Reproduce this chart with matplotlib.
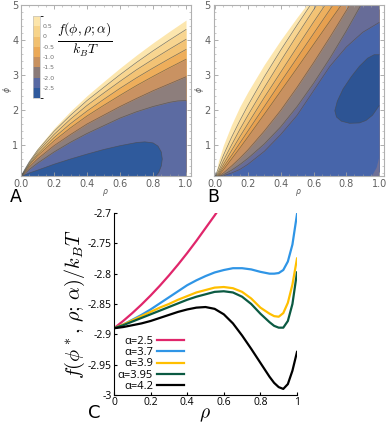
import matplotlib.pyplot as plt
from matplotlib.colors import ListedColormap, BoundaryNorm
from matplotlib.cm import ScalarMappable
from matplotlib.ticker import MultipleLocator

# ---- panel A: contour boundaries phi(rho) ----
rho_a = [0, 0.02, 0.05, 0.1, 0.2, 0.3, 0.4, 0.5, 0.6, 0.7, 0.8, 0.9, 0.95, 1.0]
a_bounds = [
    [0.1, 0.30, 0.56, 0.91, 1.48, 1.97, 2.41, 2.81, 3.20, 3.57, 3.92, 4.25, 4.41, 4.57],
    [0.1, 0.28, 0.52, 0.85, 1.39, 1.85, 2.27, 2.64, 3.01, 3.36, 3.69, 4.00, 4.15, 4.30],
    [0.1, 0.26, 0.49, 0.80, 1.30, 1.74, 2.13, 2.48, 2.82, 3.15, 3.45, 3.74, 3.88, 4.02],
    [0.1, 0.24, 0.45, 0.74, 1.21, 1.61, 1.97, 2.30, 2.62, 2.92, 3.20, 3.47, 3.60, 3.73],
    [0.1, 0.22, 0.42, 0.69, 1.12, 1.49, 1.83, 2.13, 2.42, 2.70, 2.96, 3.21, 3.33, 3.45],
    [0.1, 0.20, 0.37, 0.60, 0.98, 1.30, 1.60, 1.85, 2.10, 2.33, 2.55, 2.75, 2.85, 2.95],
    [0.1, 0.17, 0.30, 0.48, 0.80, 1.08, 1.33, 1.55, 1.77, 1.95, 2.10, 2.22, 2.26, 2.27],
]
a_colors = ['#fce6ae', '#f8d590', '#f3c375', '#eeae5b', '#c99262', '#8d7e7c', '#5c6ba2']
# closed low-energy pocket in A
a_pocket_rho = [0, 0.05, 0.1, 0.2, 0.3, 0.4, 0.5, 0.6, 0.7, 0.75, 0.8, 0.83, 0.85, 0.856, 0.85, 0.835, 0.815]
a_pocket_phi = [0.1, 0.2, 0.28, 0.45, 0.6, 0.74, 0.87, 0.98, 1.07, 1.09, 1.06, 0.97, 0.8, 0.6, 0.4, 0.22, 0.1]

# ---- panel B ----
rho_b = [0, 0.02, 0.05, 0.1, 0.15, 0.2, 0.3, 0.4, 0.5, 0.6, 0.7, 0.8, 0.9, 1.0]
b_bounds = [
    [0.1, 0.54, 0.99, 1.58, 2.09, 2.52, 3.30, 4.00, 4.65, 5.26, 5.8, 6.3, 6.8, 7.3],
    [0.1, 0.34, 0.70, 1.22, 1.69, 2.13, 2.95, 3.71, 4.43, 5.13, 5.8, 6.4, 7.0, 7.6],
    [0.1, 0.24, 0.55, 1.00, 1.44, 1.85, 2.64, 3.40, 4.14, 4.86, 5.57, 6.2, 6.9, 7.5],
    [0.1, 0.19, 0.44, 0.84, 1.23, 1.61, 2.36, 3.08, 3.80, 4.51, 5.2, 5.9, 6.6, 7.3],
    [0.1, 0.15, 0.36, 0.70, 1.05, 1.40, 2.10, 2.80, 3.49, 4.18, 4.87, 5.55, 6.2, 6.9],
    [0.1, 0.12, 0.29, 0.60, 0.91, 1.23, 1.88, 2.54, 3.20, 3.87, 4.54, 5.2, 5.9, 6.5],
    [0.1, 0.11, 0.20, 0.40, 0.62, 0.86, 1.40, 1.99, 2.65, 3.35, 4.08, 4.84, 5.6, 6.4],
    [0.1, 0.10, 0.15, 0.28, 0.44, 0.62, 1.03, 1.52, 2.10, 2.76, 3.48, 4.26, 5.09, 5.9],
    [0.1, 0.10, 0.12, 0.20, 0.30, 0.45, 0.82, 1.30, 1.85, 2.55, 3.25, 3.80, 4.22, 4.50],
]
b_colors = ['#fce6ae', '#f8d590', '#f3c375', '#eeb05e', '#e7a04f', '#c89161', '#8e7f7c', '#676c98', '#4765aa']
b_pocket_rho = [1.0, 0.96, 0.92, 0.88, 0.82, 0.77, 0.74, 0.73, 0.745, 0.78, 0.83, 0.88, 0.93, 0.97, 1.0]
b_pocket_phi = [2.12, 1.85, 1.70, 1.63, 1.62, 1.68, 1.80, 1.98, 2.25, 2.60, 2.95, 3.25, 3.48, 3.58, 3.58]
b_corner_rho = [0.955, 1.0, 1.0, 0.985]
b_corner_phi = [0.1, 0.1, 0.63, 0.35]

# ---- colour bar of A ----
cb_levels = [-3.0, -2.5, -2.0, -1.5, -1.0, -0.5, 0.0, 0.5, 1.0]
cb_colors = ['#2f5a9d', '#5869a3', '#8a7a78', '#c8915f', '#eba957', '#f1c070', '#f7d48b', '#fce5ab']
cb_ticks = [0.5, 0.0, -0.5, -1.0, -1.5, -2.0, -2.5]
cb_labels = ['0.5', '0', '-0.5', '-1.0', '-1.5', '-2.0', '-2.5']

# ---- panel C: free energy at optimal phi ----
rho_c = [0, 0.05, 0.1, 0.15, 0.2, 0.25, 0.3, 0.35, 0.4, 0.45, 0.5, 0.55, 0.6, 0.65,
         0.7, 0.75, 0.8, 0.85, 0.875, 0.9, 0.925, 0.95, 0.975, 1.0]
rho_red = [0, 0.05, 0.1, 0.15, 0.2, 0.25, 0.3, 0.35, 0.4, 0.45, 0.5, 0.55, 0.6]
f_a25 = [-2.890, -2.878, -2.865, -2.851, -2.836, -2.820, -2.803, -2.785, -2.766, -2.746,
         -2.725, -2.704, -2.682]
f_a37 = [-2.890, -2.884, -2.876, -2.868, -2.859, -2.849, -2.839, -2.829, -2.819, -2.811,
         -2.804, -2.798, -2.794, -2.791, -2.791, -2.793, -2.797, -2.800, -2.800, -2.799,
         -2.794, -2.780, -2.752, -2.702]
f_a39 = [-2.890, -2.884, -2.877, -2.870, -2.863, -2.856, -2.850, -2.843, -2.837, -2.831,
         -2.827, -2.823, -2.822, -2.824, -2.830, -2.841, -2.856, -2.866, -2.870, -2.871,
         -2.865, -2.848, -2.818, -2.775]
f_a395 = [-2.890, -2.885, -2.879, -2.873, -2.867, -2.861, -2.855, -2.849, -2.843, -2.838,
          -2.834, -2.830, -2.829, -2.831, -2.838, -2.850, -2.866, -2.880, -2.886, -2.889,
          -2.889, -2.878, -2.850, -2.798]
f_a42 = [-2.890, -2.888, -2.885, -2.882, -2.878, -2.873, -2.868, -2.863, -2.859, -2.856,
         -2.855, -2.858, -2.867, -2.882, -2.902, -2.924, -2.947, -2.970, -2.980, -2.987,
         -2.990, -2.982, -2.960, -2.929]
c_labels = ['α=2.5', 'α=3.7', 'α=3.9', 'α=3.95', 'α=4.2']
c_colors = ['#e0266b', '#2f95e6', '#ffbf00', '#0b5a42', '#000000']

W, H = 386, 426
fig = plt.figure(figsize=(W / 100, H / 100), dpi=100)


def px_axes(x0, y0, x1, y1):
    return fig.add_axes([x0 / W, 1 - y1 / H, (x1 - x0) / W, (y1 - y0) / H])


def mma_frame(ax, xlim):
    ax.set_xlim(*xlim)
    ax.set_ylim(0.1, 5)
    for s in ax.spines.values():
        s.set_color('#b0b0b0')
        s.set_linewidth(0.8)
    ax.set_xticks([0, 0.2, 0.4, 0.6, 0.8, 1.0])
    ax.set_xticklabels(['0.0', '0.2', '0.4', '0.6', '0.8', '1.0'])
    ax.xaxis.set_minor_locator(MultipleLocator(0.05))
    ax.set_yticks([1, 2, 3, 4, 5])
    ax.yaxis.set_minor_locator(MultipleLocator(0.2))
    ax.tick_params(which='both', direction='in', top=True, right=True,
                   color='#a0a0a0', labelcolor='#606060', labelsize=7, pad=2)
    ax.tick_params(which='major', length=3, width=0.6)
    ax.tick_params(which='minor', length=1.5, width=0.4)


def draw_bands(ax, rho, bounds, colors):
    for phi, col in zip(bounds, colors):
        ax.fill_between(rho, 0.1, phi, color=col, lw=0)
    for phi in bounds[1:]:
        ax.plot(rho, phi, color='#4a4a4a', lw=0.5, alpha=0.7)


# panel A
axA = px_axes(21, 5, 191, 176.5)
draw_bands(axA, rho_a, a_bounds, a_colors)
axA.fill(a_pocket_rho, a_pocket_phi, color='#2f5a9c', lw=0)
axA.plot(a_pocket_rho, a_pocket_phi, color='#4a4a4a', lw=0.5, alpha=0.7)
mma_frame(axA, (0, 1.03))

# panel B
axB = px_axes(213.5, 5, 384, 176.5)
draw_bands(axB, rho_b, b_bounds, b_colors)
axB.fill(b_pocket_rho, b_pocket_phi, color='#2d5494', lw=0)
axB.plot(b_pocket_rho, b_pocket_phi, color='#4a4a4a', lw=0.5, alpha=0.7)
axB.fill(b_corner_rho, b_corner_phi, color='#6f7096', lw=0)
mma_frame(axB, (-0.01, 1.03))

# colour bar
cax = px_axes(33, 16, 40, 98)
sm = ScalarMappable(norm=BoundaryNorm(cb_levels, len(cb_colors)), cmap=ListedColormap(cb_colors))
cb = fig.colorbar(sm, cax=cax, ticks=cb_ticks)
cb.ax.set_yticklabels(cb_labels)
cb.ax.tick_params(labelsize=4.5, labelcolor='#707070', length=0, pad=2)
cb.outline.set_edgecolor('#c0c0c0')
cb.outline.set_linewidth(0.5)
fig.text(85 / W, 1 - 40 / H, r'$\frac{f(\phi,\rho;\alpha)}{k_BT}$', fontsize=14,
         math_fontfamily='cm', ha='center', va='center')

for x in (105, 298):
    fig.text(x / W, 1 - 193 / H, r'$\rho$', fontsize=5.5, color='#555555', ha='center', va='center')
for x in (7, 199):
    fig.text(x / W, 1 - 90 / H, r'$\phi$', fontsize=5.5, color='#555555', ha='center', va='center',
             rotation=90)

fig.text(10 / W, 1 - 197 / H, 'A', fontsize=12.5, va='center', ha='left')
fig.text(207 / W, 1 - 197 / H, 'B', fontsize=12.5, va='center', ha='left')
fig.text(88 / W, 1 - 413 / H, 'C', fontsize=13, va='center', ha='left')

# panel C
axC = px_axes(114, 213, 297, 395)
series = [f_a25, f_a37, f_a39, f_a395, f_a42]
for i, (vals, lab, col) in enumerate(zip(series, c_labels, c_colors)):
    xs = rho_red if i == 0 else rho_c
    axC.plot(xs, vals, color=col, lw=1.6, label=lab)
axC.set_xlim(0, 1)
axC.set_ylim(-3, -2.7)
axC.spines['top'].set_visible(False)
axC.spines['right'].set_visible(False)
axC.set_xticks([0, 0.2, 0.4, 0.6, 0.8, 1.0])
axC.set_xticklabels(['0', '0.2', '0.4', '0.6', '0.8', '1'])
axC.set_yticks([-3, -2.95, -2.9, -2.85, -2.8, -2.75, -2.7])
axC.set_yticklabels(['-3', '-2.95', '-2.9', '-2.85', '-2.8', '-2.75', '-2.7'])
axC.tick_params(direction='in', length=2.5, width=0.8, labelsize=7.5, pad=1.5)
for lbl in axC.get_xticklabels() + axC.get_yticklabels():
    lbl.set_family('Open Sans')
fig.text(205 / W, 1 - 414 / H, r'$\rho$', fontsize=14, math_fontfamily='cm', ha='center', va='center')
axC.set_ylabel(r'$f(\phi^*,\,\rho;\,\alpha)/k_BT$', fontsize=14.5, math_fontfamily='cm', labelpad=1)
axC.legend(loc='upper right', bbox_to_anchor=(184 / W, 1 - 336 / H), bbox_transform=fig.transFigure,
           markerfirst=False, frameon=False, handlelength=2.4, handletextpad=0.4,
           labelspacing=0.02, borderpad=0, borderaxespad=0,
           prop={'family': 'Open Sans', 'size': 8})

fig.savefig('out.png', dpi=100)
